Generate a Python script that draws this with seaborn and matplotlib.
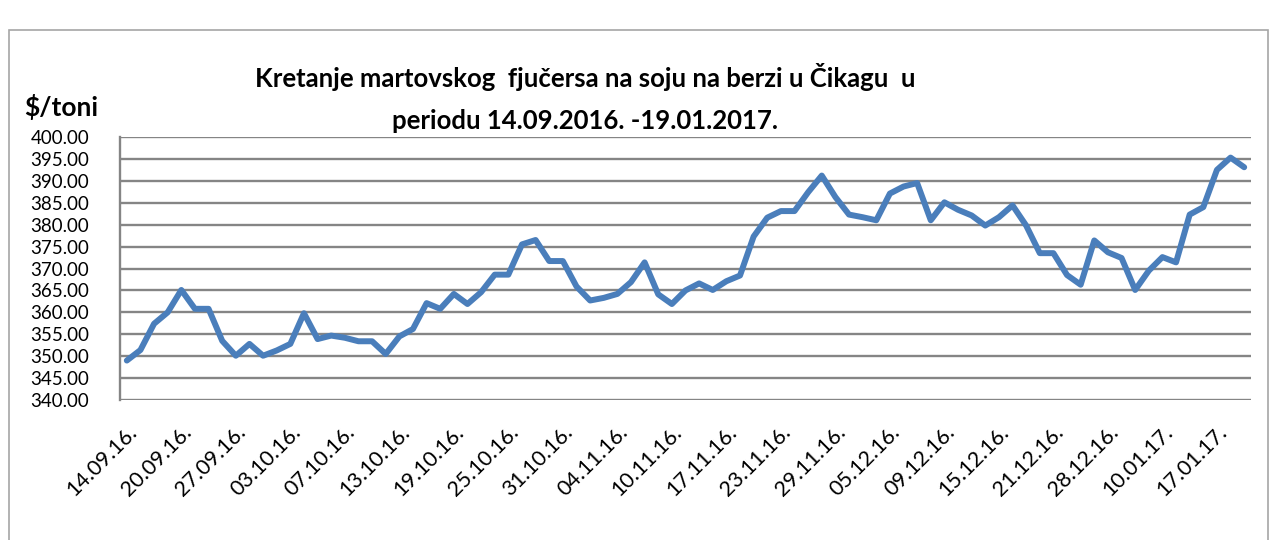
import matplotlib.pyplot as plt
import seaborn as sns
import numpy as np
import pandas as pd
from matplotlib.patches import Rectangle


# --------------------------------------------------
# Data
# --------------------------------------------------

prices = [
    349.0, 351.4, 357.4, 360.0, 365.1, 360.8, 360.8, 353.5, 350.1, 352.8,
    350.1, 351.3, 352.8, 359.8, 353.9, 354.7, 354.2, 353.4, 353.4, 350.5,
    354.5, 356.2, 362.1, 360.8, 364.2, 361.9, 364.6, 368.6, 368.6, 375.5,
    376.5, 371.7, 371.7, 365.9, 362.7, 363.3, 364.2, 366.9, 371.4, 364.1,
    361.9, 365.0, 366.6, 365.1, 367.1, 368.4, 377.3, 381.6, 383.1, 383.1,
    387.4, 391.2, 386.3, 382.3, 381.7, 381.0, 387.1, 388.7, 389.5, 381.0,
    385.1, 383.4, 382.1, 379.8, 381.7, 384.4, 379.8, 373.5, 373.5, 368.5,
    366.3, 376.4, 373.7, 372.4, 365.1, 369.5, 372.6, 371.4, 382.3, 384.0,
    392.5, 395.3, 393.1,
]

date_labels = [
    "14.09.16.", "20.09.16.", "27.09.16.", "03.10.16.", "07.10.16.",
    "13.10.16.", "19.10.16.", "25.10.16.", "31.10.16.", "04.11.16.",
    "10.11.16.", "17.11.16.", "23.11.16.", "29.11.16.", "05.12.16.",
    "09.12.16.", "15.12.16.", "21.12.16.", "28.12.16.", "10.01.17.",
    "17.01.17.",
]

label_step = 4

y_ticks = list(range(340, 401, 5))

title_lines = [
    "Kretanje martovskog  fjučersa na soju na berzi u Čikagu  u",
    "periodu 14.09.2016. -19.01.2017.",
]


# --------------------------------------------------
# Plot
# --------------------------------------------------

sns.set_style("white")
plt.rcParams["font.family"] = ["Lato", "DejaVu Sans"]

df = pd.DataFrame({"day": np.arange(len(prices)), "price": prices})

fig = plt.figure(figsize=(12.76, 5.4), dpi=100)
ax = fig.add_axes([120 / 1276, 1 - 400 / 540, (1251 - 120) / 1276, (400 - 137) / 540])

sns.lineplot(
    data=df,
    x="day",
    y="price",
    ax=ax,
    color="#4a7ebb",
    linewidth=4.3,
)

ax.set_xlim(-0.5, len(prices) - 0.5)
ax.set_ylim(340, 400)

ax.set_yticks(y_ticks)
ax.set_yticklabels([f"{v:.2f}" for v in y_ticks], fontsize=13.5, color="black")
ax.yaxis.grid(True, color="#858585", linewidth=1.7)
ax.set_axisbelow(True)

ax.set_xticks(range(0, len(prices), label_step))
ax.set_xticklabels(date_labels, rotation=45, ha="right", va="top",
                   rotation_mode="anchor", fontsize=15.5, color="black")

ax.tick_params(axis="y", length=6, width=1.7, color="#858585", pad=16)
ax.tick_params(axis="x", length=0, pad=16)

for side in ["top", "right", "bottom"]:
    ax.spines[side].set_visible(False)
ax.spines["left"].set_color("#858585")
ax.spines["left"].set_linewidth(1.7)

ax.set_xlabel("")
ax.set_ylabel("")

fig.text(585 / 1276, 1 - 77 / 540, title_lines[0], ha="center", va="center",
         fontsize=18.5, fontweight="bold", color="black")
fig.text(585 / 1276, 1 - 121 / 540, title_lines[1], ha="center", va="center",
         fontsize=18.5, fontweight="bold", color="black")
fig.text(61 / 1276, 1 - 107 / 540, "$/toni", ha="center", va="center",
         fontsize=19, fontweight="bold", color="black")

fig.patches.append(Rectangle(
    (9 / 1276, -0.1), (1268 - 9) / 1276, 1.1 - 30 / 540,
    transform=fig.transFigure, fill=False, edgecolor="#a6a6a6", linewidth=1.2,
))

fig.savefig("out.png", dpi=100)
